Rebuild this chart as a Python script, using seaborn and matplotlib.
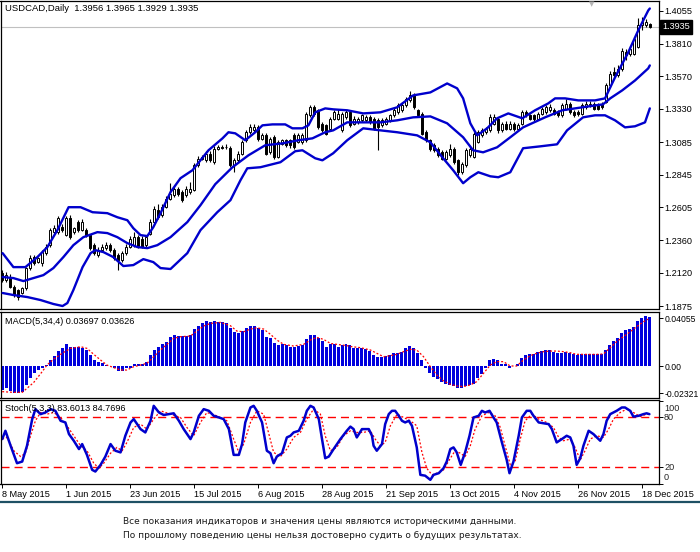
import numpy as np
import pandas as pd
import matplotlib
matplotlib.use("Agg")
import matplotlib.pyplot as plt
import matplotlib.transforms as mtransforms
from matplotlib.lines import Line2D
import seaborn as sns

sns.set_theme(style="white")
plt.rcParams['font.family'] = ['Liberation Sans', 'DejaVu Sans']
plt.rcParams['lines.scale_dashes'] = False

# ---------------- data ----------------
opens = [1.2116,1.2067,1.2090,1.2017,1.1990,1.1973,1.2005,1.2152,1.2233,1.2202,
 1.2189,1.2263,1.2324,1.2423,1.2423,1.2459,1.2398,1.2521,1.2423,1.2496,
 1.2435,1.2435,1.2398,1.2324,1.2251,1.2288,1.2300,1.2324,1.2288,1.2251,
 1.2214,1.2263,1.2312,1.2324,1.2386,1.2373,1.2324,1.2410,1.2496,1.2587,
 1.2545,1.2607,1.2668,1.2693,1.2742,1.2717,1.2693,1.2717,1.2730,1.2914,
 1.2963,1.2951,1.3000,1.2938,1.3037,1.3049,1.3045,1.3041,1.2914,1.2951,
 1.3000,1.3098,1.3159,1.3172,1.3196,1.3110,1.3135,1.3012,1.3122,1.2975,
 1.3073,1.3098,1.3098,1.3135,1.3086,1.3086,1.3098,1.3282,1.3343,1.3319,
 1.3221,1.3208,1.3184,1.3257,1.3257,1.3171,1.3270,1.3306,1.3220,1.3233,
 1.3245,1.3245,1.3270,1.3257,1.3245,1.3208,1.3220,1.3245,1.3282,1.3306,
 1.3319,1.3355,1.3392,1.3429,1.3319,1.3294,1.3159,1.3098,1.3061,1.3036,
 1.3012,1.2963,1.2987,1.3036,1.2950,1.2864,1.2914,1.2987,1.2975,1.3085,
 1.3135,1.3159,1.3171,1.3220,1.3257,1.3171,1.3220,1.3184,1.3220,1.3180,
 1.3220,1.3306,1.3282,1.3282,1.3257,1.3294,1.3306,1.3319,1.3319,1.3306,
 1.3282,1.3331,1.3368,1.3306,1.3306,1.3294,1.3343,1.3356,1.3368,1.3356,
 1.3368,1.3380,1.3503,1.3601,1.3576,1.3625,1.3748,1.3736,1.3736,1.3785,
 1.3945,1.3945,1.3956]
highs = [1.2140,1.2128,1.2110,1.2030,1.2000,1.2015,1.2165,1.2250,1.2250,1.2240,
 1.2290,1.2330,1.2450,1.2470,1.2540,1.2480,1.2540,1.2545,1.2460,1.2510,
 1.2515,1.2450,1.2410,1.2340,1.2310,1.2330,1.2345,1.2340,1.2300,1.2265,
 1.2280,1.2330,1.2390,1.2420,1.2400,1.2390,1.2400,1.2515,1.2610,1.2631,
 1.2625,1.2690,1.2780,1.2760,1.2755,1.2730,1.2760,1.2791,1.2930,1.2980,
 1.2990,1.3020,1.3020,1.3055,1.3060,1.3065,1.3070,1.3055,1.2965,1.3015,
 1.3100,1.3175,1.3215,1.3220,1.3210,1.3150,1.3150,1.3125,1.3135,1.3100,
 1.3110,1.3110,1.3105,1.3150,1.3150,1.3155,1.3310,1.3360,1.3360,1.3330,
 1.3235,1.3220,1.3270,1.3320,1.3330,1.3310,1.3320,1.3320,1.3275,1.3270,
 1.3295,1.3285,1.3285,1.3270,1.3260,1.3260,1.3270,1.3295,1.3335,1.3370,
 1.3380,1.3420,1.3460,1.3445,1.3330,1.3305,1.3170,1.3110,1.3075,1.3050,
 1.3025,1.3025,1.3070,1.3050,1.2960,1.2940,1.3040,1.3050,1.3160,1.3175,
 1.3185,1.3195,1.3290,1.3290,1.3270,1.3235,1.3240,1.3240,1.3235,1.3225,
 1.3320,1.3320,1.3295,1.3295,1.3310,1.3345,1.3360,1.3365,1.3335,1.3320,
 1.3370,1.3400,1.3380,1.3320,1.3320,1.3370,1.3385,1.3385,1.3380,1.3370,
 1.3380,1.3520,1.3610,1.3640,1.3650,1.3775,1.3770,1.3790,1.3860,1.4000,
 1.4010,1.3990,1.3965]
lows = [1.2054,1.2054,1.2005,1.1944,1.1919,1.1960,1.1995,1.2140,1.2175,1.2190,
 1.2170,1.2250,1.2310,1.2410,1.2410,1.2420,1.2390,1.2370,1.2410,1.2420,
 1.2425,1.2385,1.2290,1.2250,1.2240,1.2275,1.2290,1.2275,1.2215,1.2140,
 1.2200,1.2250,1.2300,1.2310,1.2300,1.2300,1.2310,1.2400,1.2485,1.2520,
 1.2530,1.2595,1.2655,1.2680,1.2690,1.2640,1.2680,1.2705,1.2720,1.2900,
 1.2950,1.2940,1.2935,1.2925,1.3025,1.3030,1.3030,1.2900,1.2865,1.2940,
 1.2990,1.3085,1.3145,1.3160,1.3095,1.3100,1.2990,1.3000,1.2960,1.2965,
 1.3060,1.3050,1.3040,1.3035,1.3075,1.3070,1.3085,1.3270,1.3280,1.3180,
 1.3160,1.3135,1.3170,1.3245,1.3245,1.3160,1.3255,1.3195,1.3210,1.3220,
 1.3230,1.3235,1.3220,1.3171,1.3024,1.3195,1.3210,1.3235,1.3270,1.3295,
 1.3305,1.3340,1.3380,1.3330,1.3270,1.3135,1.3085,1.3020,1.3010,1.2975,
 1.2950,1.2950,1.2975,1.2925,1.2840,1.2850,1.2900,1.2975,1.2965,1.3075,
 1.3125,1.3145,1.3160,1.3210,1.3150,1.3160,1.3170,1.3175,1.3165,1.3170,
 1.3210,1.3270,1.3245,1.3240,1.3245,1.3285,1.3295,1.3310,1.3285,1.3270,
 1.3270,1.3320,1.3295,1.3270,1.3280,1.3285,1.3330,1.3340,1.3320,1.3320,
 1.3330,1.3370,1.3490,1.3560,1.3565,1.3610,1.3690,1.3720,1.3725,1.3775,
 1.3910,1.3930,1.3929]
closes = [1.2067,1.2103,1.2017,1.1956,1.1944,1.2005,1.2152,1.2226,1.2189,1.2226,
 1.2275,1.2312,1.2435,1.2447,1.2521,1.2435,1.2521,1.2386,1.2447,1.2435,
 1.2496,1.2398,1.2300,1.2263,1.2288,1.2312,1.2324,1.2288,1.2226,1.2214,
 1.2263,1.2312,1.2373,1.2386,1.2312,1.2312,1.2386,1.2496,1.2594,1.2533,
 1.2607,1.2668,1.2705,1.2742,1.2705,1.2656,1.2742,1.2742,1.2914,1.2963,
 1.2975,1.3000,1.2951,1.3037,1.3049,1.3041,1.3049,1.2914,1.2951,1.3000,
 1.3086,1.3159,1.3196,1.3196,1.3110,1.3135,1.3000,1.3110,1.2975,1.3086,
 1.3098,1.3061,1.3061,1.3049,1.3135,1.3135,1.3294,1.3343,1.3294,1.3196,
 1.3172,1.3147,1.3258,1.3306,1.3294,1.3294,1.3306,1.3208,1.3257,1.3257,
 1.3282,1.3270,1.3233,1.3184,1.3196,1.3245,1.3257,1.3282,1.3319,1.3355,
 1.3355,1.3405,1.3429,1.3343,1.3282,1.3147,1.3098,1.3036,1.3024,1.2987,
 1.2963,1.3012,1.3036,1.2938,1.2864,1.2926,1.3024,1.3036,1.3147,1.3159,
 1.3171,1.3184,1.3270,1.3270,1.3171,1.3220,1.3184,1.3220,1.3180,1.3208,
 1.3306,1.3282,1.3257,1.3257,1.3294,1.3331,1.3343,1.3343,1.3294,1.3282,
 1.3356,1.3368,1.3306,1.3282,1.3294,1.3356,1.3368,1.3368,1.3331,1.3331,
 1.3343,1.3503,1.3589,1.3576,1.3625,1.3760,1.3724,1.3773,1.3846,1.3945,
 1.3969,1.3969,1.3935]

# Bollinger bands (bar position, price)
bb_up_x = [0.1,2.8,5.8,8.8,11.3,13.8,16.6,19.6,22.6,26.3,28.8,31.3,32.8,34.6,36.3,37.8,39.6,42.1,44.6,47.6,
 51.6,55.1,56.6,58.3,60.8,63.3,65.1,67.6,70.8,72.6,75.1,76.6,78.3,80.8,82.8,86.3,90.3,94.6,98.8,102.8,
 107.1,111.3,113.8,115.3,117.1,118.8,121.3,123.8,126.6,130.1,133.3,136.6,138.3,140.8,144.1,148.3,150.8,153.3,156.6,159.1,
 161.6,162.0]
bb_up = [1.2265,1.2162,1.2162,1.2236,1.2310,1.2435,1.2604,1.2604,1.2567,1.2560,1.2530,1.2508,1.2449,1.2398,1.2391,1.2457,1.2560,1.2715,1.2818,1.2877,
 1.3024,1.3112,1.3157,1.3149,1.3098,1.3157,1.3208,1.3215,1.3215,1.3186,1.3186,1.3208,1.3304,1.3333,1.3326,1.3319,1.3296,1.3304,1.3341,1.3429,
 1.3451,1.3517,1.3481,1.3407,1.3223,1.3134,1.3186,1.3260,1.3296,1.3260,1.3319,1.3370,1.3407,1.3407,1.3392,1.3392,1.3407,1.3562,1.3746,1.3908,
 1.4055,1.4070]
bb_mid_x = [0.1,2.8,5.3,7.8,10.3,12.8,15.3,17.8,20.3,23.8,26.3,28.8,31.3,33.8,36.3,38.8,42.1,46.3,49.6,53.3,
 57.6,61.6,65.8,70.1,74.1,77.6,80.8,82.8,86.3,90.3,94.6,98.8,102.8,107.1,111.3,115.3,117.8,120.3,123.8,127.1,
 130.3,135.8,140.1,145.1,150.3,152.1,155.1,158.3,161.6,162.0]
bb_mid = [1.2089,1.2081,1.2059,1.2081,1.2103,1.2155,1.2236,1.2324,1.2383,1.2420,1.2413,1.2383,1.2339,1.2310,1.2302,1.2324,1.2383,1.2494,1.2619,1.2774,
 1.2899,1.2987,1.3061,1.3075,1.3098,1.3112,1.3157,1.3171,1.3230,1.3230,1.3230,1.3245,1.3267,1.3274,1.3223,1.3120,1.3024,1.3009,1.3046,1.3120,
 1.3193,1.3267,1.3319,1.3341,1.3363,1.3407,1.3466,1.3539,1.3628,1.3650]
bb_low_x = [0.1,2.8,6.3,9.6,12.8,15.1,16.3,17.8,20.1,22.1,23.3,25.3,27.8,30.3,32.8,35.3,37.8,39.6,42.1,46.3,
 49.6,53.8,57.1,59.6,61.3,64.6,69.6,73.3,75.1,78.3,80.1,82.8,86.3,90.3,94.6,98.8,103.8,107.1,110.3,112.8,
 115.3,117.1,119.1,122.1,124.1,127.1,130.3,134.6,138.8,141.3,145.3,148.3,150.8,153.3,155.8,158.3,160.8,162.0]
bb_low = [1.1971,1.1956,1.1941,1.1919,1.1890,1.1875,1.1897,1.1993,1.2162,1.2265,1.2287,1.2273,1.2236,1.2170,1.2177,1.2221,1.2199,1.2155,1.2148,1.2265,
 1.2435,1.2567,1.2656,1.2803,1.2891,1.2899,1.2936,1.3017,1.3024,1.2965,1.2950,1.3002,1.3098,1.3186,1.3171,1.3157,1.3134,1.3083,1.2965,1.2877,
 1.2781,1.2825,1.2862,1.2832,1.2825,1.2862,1.3039,1.3053,1.3068,1.3171,1.3267,1.3282,1.3282,1.3245,1.3193,1.3201,1.3230,1.3333]

# MACD(5,34,4) histogram, one value per bar
macd = [-0.0204,-0.0190,-0.0212,-0.0226,-0.0232,-0.0224,-0.0161,-0.0099,-0.0062,-0.0034,
 -0.0014,0.0008,0.0051,0.0088,0.0127,0.0150,0.0184,0.0164,0.0164,0.0164,
 0.0150,0.0136,0.0093,0.0051,0.0031,0.0023,0.0008,0.0002,-0.0014,-0.0042,
 -0.0042,-0.0020,-0.0014,0.0014,0.0014,0.0014,0.0037,0.0093,0.0136,0.0164,
 0.0184,0.0207,0.0249,0.0263,0.0255,0.0255,0.0255,0.0263,0.0314,0.0340,
 0.0362,0.0382,0.0371,0.0382,0.0376,0.0371,0.0362,0.0320,0.0286,0.0277,
 0.0297,0.0320,0.0340,0.0340,0.0320,0.0306,0.0249,0.0235,0.0192,0.0178,
 0.0184,0.0178,0.0164,0.0164,0.0170,0.0178,0.0226,0.0263,0.0263,0.0235,
 0.0212,0.0164,0.0184,0.0184,0.0164,0.0178,0.0184,0.0178,
 0.0156,0.0150,0.0150,0.0142,0.0127,0.0093,0.0079,0.0079,0.0085,0.0093,
 0.0108,0.0108,0.0122,0.0150,0.0173,0.0150,0.0113,0.0051,-0.0020,-0.0062,
 -0.0091,-0.0113,-0.0139,-0.0156,-0.0161,-0.0167,-0.0190,-0.0190,-0.0167,-0.0161,
 -0.0156,-0.0099,-0.0071,-0.0020,0.0051,0.0059,0.0051,0.0014,0.0014,-0.0020,
 0.0003,0.0017,0.0071,0.0093,0.0099,0.0099,0.0116,0.0127,0.0136,0.0136,
 0.0122,0.0113,0.0113,0.0122,0.0113,0.0099,0.0093,0.0102,0.0102,0.0102,
 0.0099,0.0099,0.0099,0.0136,0.0178,0.0212,0.0235,0.0277,0.0306,0.0314,
 0.0334,0.0382,0.0405,0.0425,0.0413]
macd_sig_x = [0,2.9,5.0,6.2,7.9,10.0,11.2,12.9,15.0,17.1,19.6,21.2,22.9,24.6,26.2,27.9,29.6,31.2,32.9,34.6,
 36.2,37.9,39.6,41.2,42.9,44.6,47.1,48.7,50.4,52.1,54.6,57.1,58.7,60.4,62.1,63.7,65.4,67.1,68.7,70.4,
 72.9,75.4,77.1,78.7,80.4,82.1,83.7,86.2,87.5,89.6,92.1,93.7,95.4,97.1,98.7,100.4,102.1,103.7,105.4,107.1,
 108.7,110.4,112.1,113.7,115.4,117.1,118.7,120.4,122.1,123.7,125.4,127.1,128.7,130.4,132.1,133.7,135.4,137.1,138.7,140.4,
 142.1,143.7,145.4,147.1,148.7,150.4,152.1,153.7,155.4,157.1,158.7,160.4,161.6]
macd_sig = [-0.0218,-0.0224,-0.0224,-0.0190,-0.0139,-0.0048,0.0008,0.0059,0.0108,0.0150,
 0.0164,0.0150,0.0099,0.0051,0.0008,-0.0014,-0.0034,-0.0034,-0.0006,0.0008,
 0.0023,0.0079,0.0136,0.0184,0.0235,0.0249,0.0255,0.0297,0.0340,0.0362,
 0.0371,0.0342,0.0297,0.0291,0.0314,0.0325,0.0314,0.0269,0.0221,0.0184,
 0.0170,0.0184,0.0221,0.0243,0.0226,0.0192,0.0184,0.0173,0.0164,0.0156,
 0.0136,0.0108,0.0079,0.0088,0.0099,0.0122,0.0142,0.0136,0.0079,-0.0006,
 -0.0076,-0.0127,-0.0156,-0.0170,-0.0175,-0.0161,-0.0133,-0.0062,0.0008,0.0037,
 0.0037,0.0000,0.0000,0.0051,0.0088,0.0108,0.0122,0.0127,0.0127,0.0122,
 0.0113,0.0099,0.0099,0.0099,0.0099,0.0102,0.0156,0.0207,0.0249,0.0291,
 0.0334,0.0376,0.0399]

# Stochastic(5,3,3)
stoch_x = [0,0.8,2.1,3.7,5.0,6.2,7.5,8.3,9.6,10.8,12.1,13.3,14.6,15.8,16.7,17.9,19.2,20.0,21.2,22.5,
 23.3,24.6,25.8,27.1,28.3,29.6,30.8,32.1,32.9,34.6,35.8,37.1,37.9,39.2,40.4,41.7,42.9,44.2,45.4,47.1,
 47.9,49.2,50.4,51.7,52.9,54.2,55.4,56.7,57.9,59.2,60.0,60.8,62.1,62.9,63.7,65.0,66.2,67.1,67.9,68.7,
 70.0,71.2,72.1,72.9,74.2,75.4,76.2,77.1,77.9,79.2,80.0,80.8,81.7,82.9,84.6,86.2,87.1,87.9,88.7,90.0,
 91.7,92.5,92.9,93.7,95.0,95.8,96.7,97.5,98.3,99.2,100.0,100.8,101.7,102.5,103.7,104.6,105.8,107.1,107.9,109.2,
 110.4,111.2,112.1,112.9,113.7,114.7,115.8,116.9,117.9,119.2,120.0,120.8,121.9,122.9,123.7,125.0,126.2,126.9,127.9,129.2,
 130.0,131.2,132.1,132.9,134.2,135.4,136.7,137.5,138.7,140.0,141.2,142.1,142.9,143.7,144.6,145.4,146.7,147.9,149.6,150.4,
 151.2,152.1,152.9,153.7,155.0,155.8,157.1,157.9,159.2,160.4,161.2,161.9]
stoch_main = [54,64,46,25,27,46,78,90,84,86,90,88,76,74,60,52,42,48,35,17,
 15,23,33,48,40,38,58,74,78,66,62,76,94,86,83,84,85,76,66,54,
 62,82,90,88,82,80,78,66,35,35,48,74,92,94,88,74,40,37,25,33,
 37,56,58,62,64,76,88,94,92,78,54,31,33,42,54,64,69,66,56,66,
 66,58,46,40,48,72,84,88,88,82,76,74,76,70,44,11,10,5,11,13,
 19,27,42,44,38,23,38,58,80,82,88,86,88,80,74,50,29,13,27,58,
 80,88,88,82,74,73,72,66,50,54,58,56,46,23,31,46,64,60,52,60,
 76,84,86,88,92,92,88,81,82,84,85,84]
stoch_sig_x = [0,1.2,2.9,4.6,5.8,7.1,8.3,9.6,11.2,12.9,14.6,16.2,17.9,19.6,21.2,22.9,24.2,25.4,27.1,28.7,
 30.0,31.2,32.9,34.6,36.2,37.9,39.6,42.1,44.6,46.2,47.9,49.6,51.2,53.7,56.2,57.9,59.2,60.4,62.1,63.7,
 65.4,66.6,67.9,69.6,71.2,72.9,74.6,76.2,77.9,79.6,80.8,82.1,83.7,85.4,87.1,88.7,90.4,92.1,93.3,94.6,
 95.8,97.1,98.8,100.4,102.1,103.7,105.0,106.2,107.5,108.7,110.4,112.1,113.3,114.6,115.8,117.1,118.3,120.0,121.7,123.3,
 124.6,125.8,127.1,128.3,129.6,130.8,132.5,134.2,136.2,137.9,139.2,140.4,142.1,143.3,144.6,145.8,147.1,148.7,150.4,151.7,
 152.9,154.6,156.2,157.9,159.6,161.2,161.9]
stoch_sig = [54,56,40,33,37,58,76,86,84,86,80,70,58,46,40,25,19,25,37,44,
 40,50,68,72,66,78,88,84,80,68,58,74,86,82,76,54,38,48,74,88,
 84,62,38,33,42,56,62,78,90,84,58,40,44,58,64,62,62,64,54,46,
 50,70,84,80,76,70,38,19,11,13,17,31,40,37,33,46,66,82,86,82,
 68,46,23,27,54,76,84,78,74,68,56,52,54,44,29,40,54,58,56,66,
 78,86,90,86,81,84,84]

price_ticks = [1.4055,1.3810,1.3570,1.3330,1.3085,1.2845,1.2605,1.2360,1.2120,1.1875]
macd_ticks = [0.04055, 0.0, -0.02321]
macd_tick_labels = ["0.04055", "0.00", "-0.02321"]
stoch_levels = [80, 20]
stoch_ticks = [100, 80, 20, 0]
date_pos = [0,16,32,48,64,80,96,112,128,144,160]
date_labels = ["8 May 2015","1 Jun 2015","23 Jun 2015","15 Jul 2015","6 Aug 2015","28 Aug 2015",
               "21 Sep 2015","13 Oct 2015","4 Nov 2015","26 Nov 2015","18 Dec 2015"]
title_main = "USDCAD,Daily  1.3956 1.3965 1.3929 1.3935"
title_macd = "MACD(5,34,4) 0.03697 0.03626"
title_stoch = "Stoch(5,3,3) 83.6013 84.7696"
footer = ["Все показания индикаторов и значения цены являются историческими данными.",
          "По прошлому поведению цены нельзя достоверно судить о будущих результатах."]

# ---------------- layout ----------------
W, H = 700, 552
fig = plt.figure(figsize=(W/100, H/100), dpi=100)
fig.patch.set_facecolor('white')

def rect(x0, y0, x1, y1):
    return [x0/W, 1 - y1/H, (x1 - x0)/W, (y1 - y0)/H]

ax_p = fig.add_axes(rect(0.5, 0.5, 659, 309))
ax_m = fig.add_axes(rect(0.5, 312, 659, 398))
ax_s = fig.add_axes(rect(0.5, 399.5, 659, 484))

BLUE = '#0000cc'
FS = 6.6
XLIM = (-0.43, 164.3)

for ax in (ax_p, ax_m, ax_s):
    ax.set_facecolor('white')
    for sp in ax.spines.values():
        sp.set_visible(True)
        sp.set_color('black')
        sp.set_linewidth(0.9)
    ax.yaxis.tick_right()
    ax.tick_params(axis='y', which='both', right=True, left=False, length=3, width=0.7,
                   direction='out', labelsize=FS, pad=1.2, colors='black')
    ax.grid(False)

# ---- main price panel ----
k = np.arange(len(closes))
o = np.array(opens); c = np.array(closes)
ax_p.vlines(k, lows, highs, color='black', lw=0.8, zorder=2)
body_bottom = np.minimum(o, c)
body_h = np.maximum(np.abs(c - o), 0.0003)
ax_p.bar(k, body_h, bottom=body_bottom, width=0.62,
         color=np.where(c >= o, 'white', 'black'), edgecolor='black', linewidth=0.7, zorder=3)

for bx, by in ((bb_up_x, bb_up), (bb_mid_x, bb_mid), (bb_low_x, bb_low)):
    sns.lineplot(x=bx, y=by, ax=ax_p, color=BLUE, linewidth=1.7, sort=False, estimator=None, zorder=4)

ax_p.axhline(closes[-1], color='#c0c0c0', lw=0.8, zorder=1)
ax_p.set_xlim(*XLIM)
ax_p.set_ylim(1.1853, 1.4129)
ax_p.set_yticks(price_ticks)
ax_p.set_yticklabels([f"{v:.4f}" for v in price_ticks])
ax_p.set_xticks([])
ax_p.set_xlabel(''); ax_p.set_ylabel('')
trans = mtransforms.blended_transform_factory(ax_p.transAxes, ax_p.transData)
ax_p.text(1 + 3/659, closes[-1], f"{closes[-1]:.4f}", transform=trans, ha='left', va='center',
          fontsize=FS, color='white', zorder=10, clip_on=False,
          bbox=dict(boxstyle='square,pad=0.25', fc='black', ec='black'))
fig.text(5/W, 1 - 8.5/H, title_main, fontsize=6.8, ha='left', va='center', color='black')
fig.text(592/W, 1 - 4/H, '\u25BC', fontsize=5, ha='center', va='center', color='#b4b4b4',
         family='DejaVu Sans')

# ---- MACD panel ----
sns.barplot(x=k, y=macd, ax=ax_m, native_scale=True, color='#0000dd', saturation=1,
            width=0.75, errorbar=None, linewidth=0)
sns.lineplot(x=macd_sig_x, y=macd_sig, ax=ax_m, color='red', linewidth=0.9,
             sort=False, estimator=None)
ax_m.lines[-1].set_dashes((1.4, 1.4))
ax_m.set_xlim(*XLIM)
ax_m.set_ylim(-0.0272, 0.0459)
ax_m.set_yticks(macd_ticks)
ax_m.set_yticklabels(macd_tick_labels)
ax_m.tick_params(axis='y', labelsize=6.2)
ax_m.set_xticks([])
ax_m.set_xlabel(''); ax_m.set_ylabel('')
fig.text(5/W, 1 - 321/H, title_macd, fontsize=FS, ha='left', va='center', color='black')

# ---- Stochastic panel ----
for lv in stoch_levels:
    ax_s.axhline(lv, color='#ff0000', lw=1.0, dashes=(5.8, 3.6), zorder=1)
sns.lineplot(x=stoch_sig_x, y=stoch_sig, ax=ax_s, color='red', linewidth=0.9,
             sort=False, estimator=None)
ax_s.lines[-1].set_dashes((1.4, 1.4))
sns.lineplot(x=stoch_x, y=stoch_main, ax=ax_s, color=BLUE, linewidth=1.8,
             sort=False, estimator=None)
ax_s.set_xlim(*XLIM)
ax_s.set_ylim(0.8, 101.6)
ax_s.set_yticks(stoch_ticks)
ax_s.set_yticklabels([])
for v, lab, dy in ((100, '100', -8), (80, '80', 0), (20, '20', 0), (0, '0', 6)):
    ax_s.annotate(lab, xy=(1, v), xycoords=('axes fraction', 'data'), xytext=(5, dy),
                  textcoords='offset pixels', ha='left', va='center', fontsize=FS,
                  annotation_clip=False)
ax_s.set_xticks(date_pos)
ax_s.set_xticklabels(date_labels, fontsize=FS)
for lab in ax_s.get_xticklabels():
    lab.set_horizontalalignment('left')
ax_s.tick_params(axis='x', bottom=True, length=3, width=0.7, direction='out', pad=1.5,
                 labelsize=FS, colors='black')
ax_s.set_xlabel(''); ax_s.set_ylabel('')
fig.text(5/W, 1 - 408.5/H, title_stoch, fontsize=FS, ha='left', va='center', color='black')

# ---- footer ----
fig.add_artist(Line2D([0, 1], [1 - 502/H, 1 - 502/H], color='#1e5064', lw=1.6,
                      transform=fig.transFigure))
fig.text(123/W, 1 - 522/H, footer[0], fontsize=6.45, ha='left', va='center',
         family=['DejaVu Sans'], color='#1a1a1a')
fig.text(123/W, 1 - 535/H, footer[1], fontsize=6.45, ha='left', va='center',
         family=['DejaVu Sans'], color='#1a1a1a')

fig.savefig('out.png', dpi=100, facecolor='white')
